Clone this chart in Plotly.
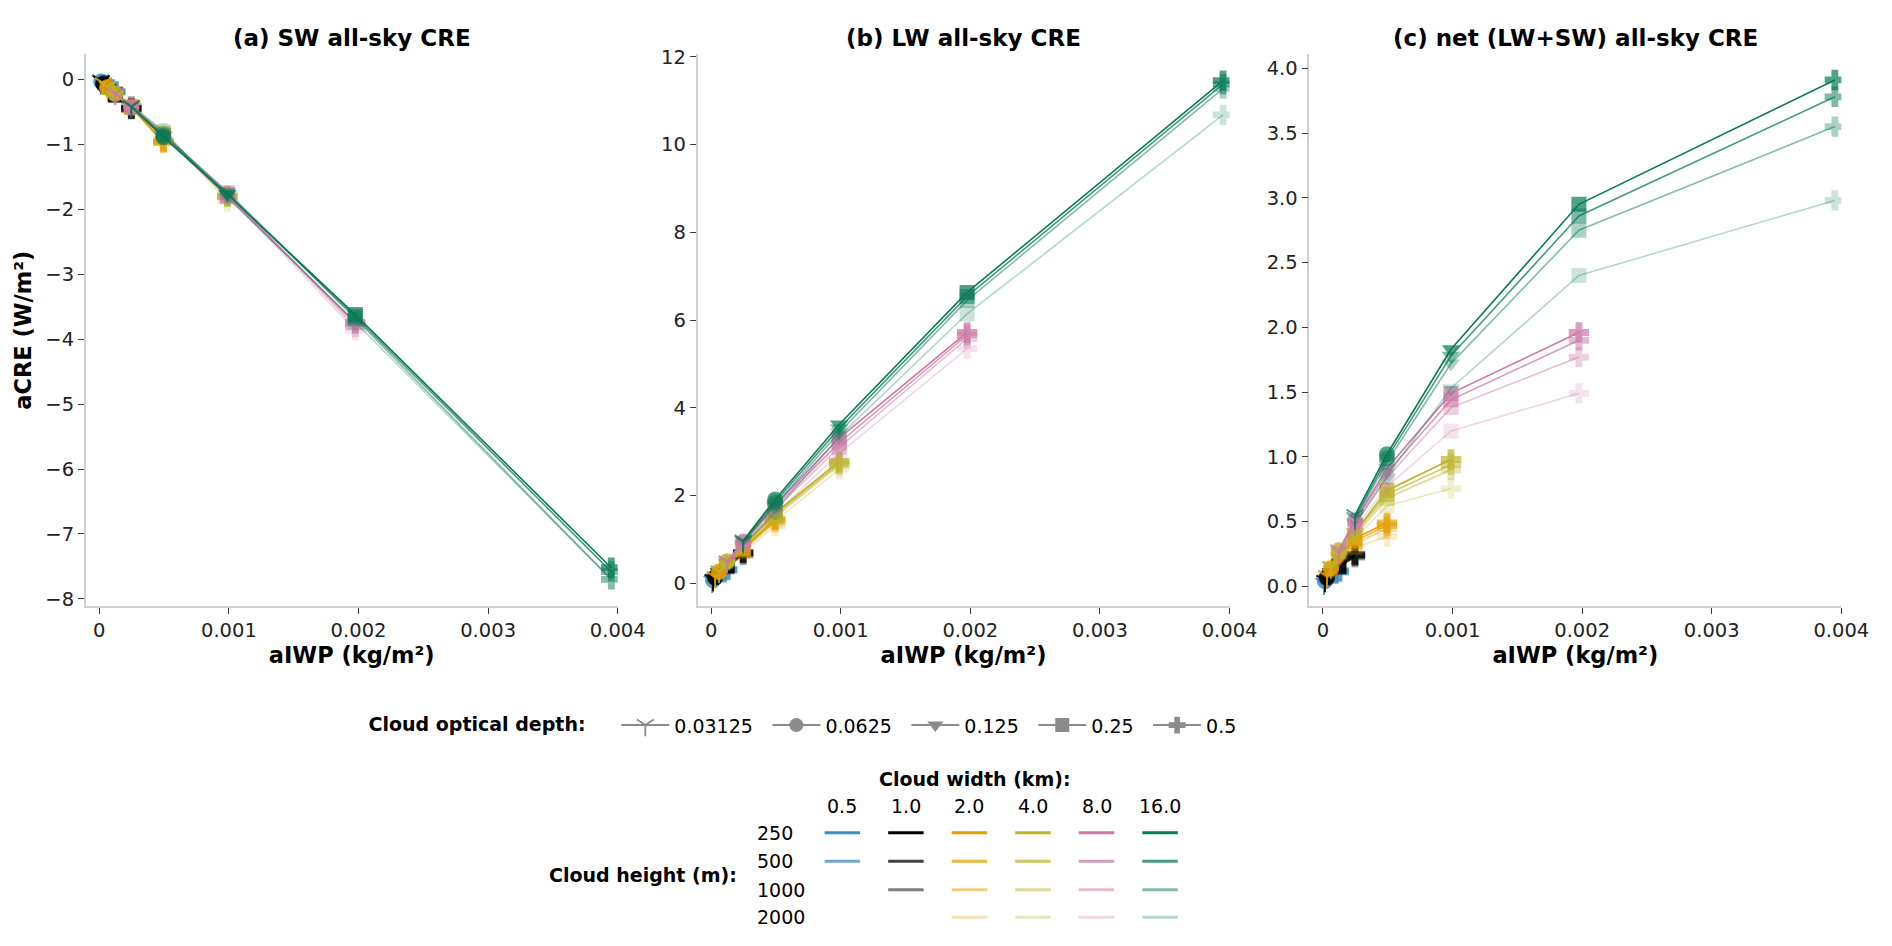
import plotly.graph_objects as go
from plotly.subplots import make_subplots

FIG_W, FIG_H = 1892, 946
FONT = "DejaVu Sans"

# cloud optical depth (one marker each)
TAU_LABELS = ["0.03125", "0.0625", "0.125", "0.25", "0.5"]
# cloud width (km) and cloud height (m)
WIDTHS = [0.5, 1.0, 2.0, 4.0, 8.0, 16.0]
WIDTH_LABELS = ["0.5", "1.0", "2.0", "4.0", "8.0", "16.0"]
HEIGHTS = [250, 500, 1000, 2000]

# aIWP (kg/m2) per cloud width, one value per optical depth
AIWP_W0P5 = [0.0000077, 0.0000154, 0.0000309, 0.0000617, 0.000123]
AIWP_W1 = [0.0000154, 0.0000309, 0.0000617, 0.000123, 0.000247]
AIWP_W2 = [0.0000309, 0.0000617, 0.000123, 0.000247, 0.000494]
AIWP_W4 = [0.0000617, 0.000123, 0.000247, 0.000494, 0.000988]
AIWP_W8 = [0.000123, 0.000247, 0.000494, 0.000988, 0.001975]
AIWP_W16 = [0.000247, 0.000494, 0.000988, 0.001975, 0.00395]

# SW all-sky aCRE (W/m2), one row per cloud height (250, 500, 1000, 2000)
SW_W0P5 = [[-0.015, -0.03, -0.07, -0.12, -0.19],
           [-0.015, -0.03, -0.06, -0.11, -0.19]]
SW_W1 = [[-0.03, -0.07, -0.14, -0.24, -0.455],
         [-0.03, -0.06, -0.14, -0.24, -0.445],
         [-0.03, -0.07, -0.13, -0.22, -0.415]]
SW_W2 = [[-0.06, -0.13, -0.23, -0.43, -0.97],
         [-0.06, -0.12, -0.23, -0.43, -0.96],
         [-0.06, -0.12, -0.23, -0.42, -0.945],
         [-0.06, -0.12, -0.22, -0.41, -0.925]]
SW_W4 = [[-0.12, -0.22, -0.44, -0.86, -1.80],
         [-0.11, -0.22, -0.43, -0.85, -1.79],
         [-0.12, -0.22, -0.42, -0.83, -1.81],
         [-0.11, -0.21, -0.40, -0.80, -1.88]]
SW_W8 = [[-0.22, -0.44, -0.87, -1.80, -3.74],
         [-0.22, -0.43, -0.86, -1.77, -3.76],
         [-0.22, -0.43, -0.85, -1.74, -3.81],
         [-0.20, -0.41, -0.81, -1.78, -3.86]]
SW_W16 = [[-0.42, -0.89, -1.77, -3.62, -7.52],
          [-0.42, -0.87, -1.76, -3.65, -7.58],
          [-0.41, -0.84, -1.73, -3.68, -7.70],
          [-0.40, -0.79, -1.82, -3.74, -7.70]]

# LW all-sky aCRE (W/m2)
LW_W0P5 = [[0.035, 0.07, 0.13, 0.20, 0.31],
           [0.035, 0.07, 0.12, 0.19, 0.30]]
LW_W1 = [[0.07, 0.14, 0.25, 0.40, 0.70],
         [0.07, 0.13, 0.24, 0.39, 0.68],
         [0.07, 0.13, 0.23, 0.37, 0.64]]
LW_W2 = [[0.14, 0.27, 0.46, 0.80, 1.46],
         [0.14, 0.26, 0.45, 0.78, 1.43],
         [0.13, 0.25, 0.44, 0.75, 1.39],
         [0.13, 0.24, 0.42, 0.71, 1.31]]
LW_W4 = [[0.27, 0.50, 0.86, 1.60, 2.78],
         [0.26, 0.49, 0.84, 1.56, 2.73],
         [0.26, 0.48, 0.81, 1.51, 2.69],
         [0.25, 0.46, 0.77, 1.42, 2.60]]
LW_W8 = [[0.50, 0.95, 1.78, 3.31, 5.72],
         [0.49, 0.93, 1.74, 3.20, 5.66],
         [0.48, 0.91, 1.69, 3.10, 5.58],
         [0.45, 0.86, 1.58, 2.96, 5.35]]
LW_W16 = [[0.97, 1.91, 3.62, 6.63, 11.46],
          [0.95, 1.85, 3.53, 6.54, 11.38],
          [0.93, 1.79, 3.44, 6.45, 11.28],
          [0.88, 1.63, 3.35, 6.14, 10.68]]

# net (LW+SW) all-sky aCRE (W/m2)
NET_W0P5 = [[0.02, 0.04, 0.06, 0.08, 0.12],
            [0.02, 0.04, 0.06, 0.08, 0.11]]
NET_W1 = [[0.04, 0.07, 0.11, 0.16, 0.245],
          [0.04, 0.07, 0.10, 0.15, 0.235],
          [0.04, 0.06, 0.10, 0.15, 0.225]]
NET_W2 = [[0.08, 0.14, 0.23, 0.37, 0.49],
          [0.08, 0.14, 0.22, 0.35, 0.47],
          [0.07, 0.13, 0.21, 0.33, 0.445],
          [0.07, 0.12, 0.20, 0.30, 0.385]]
NET_W4 = [[0.15, 0.28, 0.42, 0.74, 0.98],
          [0.15, 0.27, 0.41, 0.71, 0.94],
          [0.14, 0.26, 0.39, 0.68, 0.90],
          [0.14, 0.25, 0.37, 0.62, 0.755]]
NET_W8 = [[0.28, 0.51, 0.91, 1.49, 1.96],
          [0.27, 0.50, 0.88, 1.44, 1.90],
          [0.26, 0.48, 0.84, 1.38, 1.77],
          [0.25, 0.45, 0.77, 1.20, 1.49]]
NET_W16 = [[0.55, 1.02, 1.83, 2.95, 3.91],
           [0.53, 0.99, 1.78, 2.86, 3.78],
           [0.52, 0.96, 1.72, 2.75, 3.55],
           [0.48, 0.85, 1.53, 2.40, 2.98]]

X_TICKS = [0, 0.001, 0.002, 0.003, 0.004]
X_TICK_LABELS = ["0", "0.001", "0.002", "0.003", "0.004"]

AIWP = dict(zip(WIDTHS, [AIWP_W0P5, AIWP_W1, AIWP_W2, AIWP_W4, AIWP_W8, AIWP_W16]))
PANELS = [
    ("(a) SW all-sky CRE", dict(zip(WIDTHS, [SW_W0P5, SW_W1, SW_W2, SW_W4, SW_W8, SW_W16]))),
    ("(b) LW all-sky CRE", dict(zip(WIDTHS, [LW_W0P5, LW_W1, LW_W2, LW_W4, LW_W8, LW_W16]))),
    ("(c) net (LW+SW) all-sky CRE", dict(zip(WIDTHS, [NET_W0P5, NET_W1, NET_W2, NET_W4, NET_W8, NET_W16]))),
]

# styling
WIDTH_COLORS = ["#3a8cc1", "#000000", "#e69f00", "#bbb42a", "#cc79a7", "#087a55"]
HEIGHT_ALPHA = [1.0, 0.75, 0.5, 0.3]
SYMBOLS = ["y-down", "circle", "triangle-down", "square", "cross"]
SIZES = [14, 16, 16, 15, 17]
SYMBOL_LINE = [1.8, 0, 0, 0, 0]
GREY = "#8c8c8c"

# panel geometry in pixels
PANEL_X = [(87, 627), (708, 1248), (1329, 1869)]
PANEL_Y = (46, 606)
Y_RANGES = [[-8.11, 0.387], [-0.52, 12.06], [-0.152, 4.108]]
Y_DTICK = [1, 2, 0.5]
X_RANGE = [-0.000105, 0.004]

TITLE_SIZE = 23
LABEL_SIZE = 22.5
TICK_SIZE = 19.5
LEG_SIZE = 19


def rgba(hex_color, a):
    h = hex_color.lstrip("#")
    r, g, b = int(h[0:2], 16), int(h[2:4], 16), int(h[4:6], 16)
    return f"rgba({r},{g},{b},{a})"


def px(x):
    return x / FIG_W


def py(y):
    return 1 - y / FIG_H


fig = make_subplots(rows=1, cols=3)

for col, (title, series) in enumerate(PANELS, start=1):
    for wi, w in enumerate(WIDTHS):
        for hi, vals in enumerate(series[w]):
            c = rgba(WIDTH_COLORS[wi], HEIGHT_ALPHA[hi])
            fig.add_trace(
                go.Scatter(
                    x=AIWP[w],
                    y=vals,
                    mode="lines+markers",
                    line=dict(color=c, width=1.6),
                    marker=dict(
                        symbol=SYMBOLS,
                        size=SIZES,
                        color=c,
                        line=dict(color=c, width=SYMBOL_LINE),
                    ),
                    showlegend=False,
                    name=f"w={w} km, h={HEIGHTS[hi]} m",
                ),
                row=1,
                col=col,
            )

# optical-depth legend entries (grey)
for ti, lab in enumerate(TAU_LABELS):
    fig.add_trace(
        go.Scatter(
            x=[None],
            y=[None],
            mode="lines+markers",
            line=dict(color=GREY, width=2),
            marker=dict(
                symbol=SYMBOLS[ti],
                size=14,
                color=GREY,
                line=dict(color=GREY, width=SYMBOL_LINE[ti]),
            ),
            name=lab + "\u2002",
            showlegend=True,
        ),
        row=1,
        col=1,
    )

annotations = []
for col in range(1, 4):
    x0, x1 = PANEL_X[col - 1]
    fig.update_xaxes(
        domain=[px(x0), px(x1)],
        range=X_RANGE,
        tickvals=X_TICKS,
        ticktext=X_TICK_LABELS,
        showline=True,
        linecolor="#cfcfcf",
        linewidth=1.5,
        ticks="outside",
        ticklen=6,
        tickwidth=1.3,
        tickcolor="#3a3a3a",
        showgrid=False,
        zeroline=False,
        tickfont=dict(size=TICK_SIZE, color="#222222"),
        title=dict(text="<b>aIWP (kg/m²)</b>", font=dict(size=LABEL_SIZE, color="#000000"), standoff=6),
        row=1,
        col=col,
    )
    fig.update_yaxes(
        domain=[py(PANEL_Y[1]), py(PANEL_Y[0])],
        range=Y_RANGES[col - 1],
        dtick=Y_DTICK[col - 1],
        tickformat=".1f" if col == 3 else None,
        showline=True,
        linecolor="#cfcfcf",
        linewidth=1.5,
        ticks="outside",
        ticklen=6,
        tickwidth=1.3,
        tickcolor="#3a3a3a",
        showgrid=False,
        zeroline=False,
        tickfont=dict(size=TICK_SIZE, color="#222222"),
        row=1,
        col=col,
    )
    annotations.append(dict(
        x=px((x0 + x1) / 2), y=py(29), xref="paper", yref="paper",
        text=f"<b>{PANELS[col - 1][0]}</b>", showarrow=False,
        font=dict(size=TITLE_SIZE, color="#000000"), xanchor="center", yanchor="middle",
    ))

fig.update_yaxes(title=dict(text="<b>aCRE (W/m²)</b>", font=dict(size=LABEL_SIZE, color="#000000"), standoff=7), row=1, col=1)

# cloud width / height colour grid
COL_X = [855, 919.5, 984, 1048.5, 1113, 1177.5]
ROW_Y = [836, 865, 894, 922]
shapes = []
for wi, w in enumerate(WIDTHS):
    annotations.append(dict(
        x=px(COL_X[wi]), y=py(809), xref="paper", yref="paper", text=WIDTH_LABELS[wi],
        showarrow=False, font=dict(size=LEG_SIZE, color="#000000"), xanchor="center", yanchor="middle",
    ))
    for hi in range(len(PANELS[0][1][w])):
        shapes.append(dict(
            type="line", xref="paper", yref="paper",
            x0=px(COL_X[wi] - 18), x1=px(COL_X[wi] + 18), y0=py(ROW_Y[hi]), y1=py(ROW_Y[hi]),
            line=dict(color=rgba(WIDTH_COLORS[wi], HEIGHT_ALPHA[hi]), width=3),
        ))
for hi, h in enumerate(HEIGHTS):
    annotations.append(dict(
        x=px(766), y=py(ROW_Y[hi]), xref="paper", yref="paper", text=str(h),
        showarrow=False, font=dict(size=LEG_SIZE, color="#000000"), xanchor="left", yanchor="middle",
    ))
annotations.append(dict(
    x=px(990), y=py(782), xref="paper", yref="paper", text="<b>Cloud width (km):</b>",
    showarrow=False, font=dict(size=LEG_SIZE, color="#000000"), xanchor="center", yanchor="middle",
))
annotations.append(dict(
    x=px(750), y=py(879), xref="paper", yref="paper", text="<b>Cloud height (m):</b>",
    showarrow=False, font=dict(size=LEG_SIZE, color="#000000"), xanchor="right", yanchor="middle",
))

fig.update_layout(
    width=FIG_W,
    height=FIG_H,
    margin=dict(l=0, r=0, t=0, b=0),
    paper_bgcolor="white",
    plot_bgcolor="white",
    font=dict(family=FONT, size=LEG_SIZE, color="#000000"),
    annotations=annotations,
    shapes=shapes,
    legend=dict(
        orientation="h",
        x=px(372),
        xanchor="left",
        y=py(727),
        yanchor="middle",
        title=dict(text="<b>Cloud optical depth:</b>\u2003\u2009", side="left", font=dict(size=LEG_SIZE)),
        font=dict(size=LEG_SIZE),
        itemwidth=48,
        bgcolor="rgba(0,0,0,0)",
    ),
)

fig.write_html(
    "out.html",
    config={"displayModeBar": False},
    post_script="document.body.style.margin='0px';",
)
